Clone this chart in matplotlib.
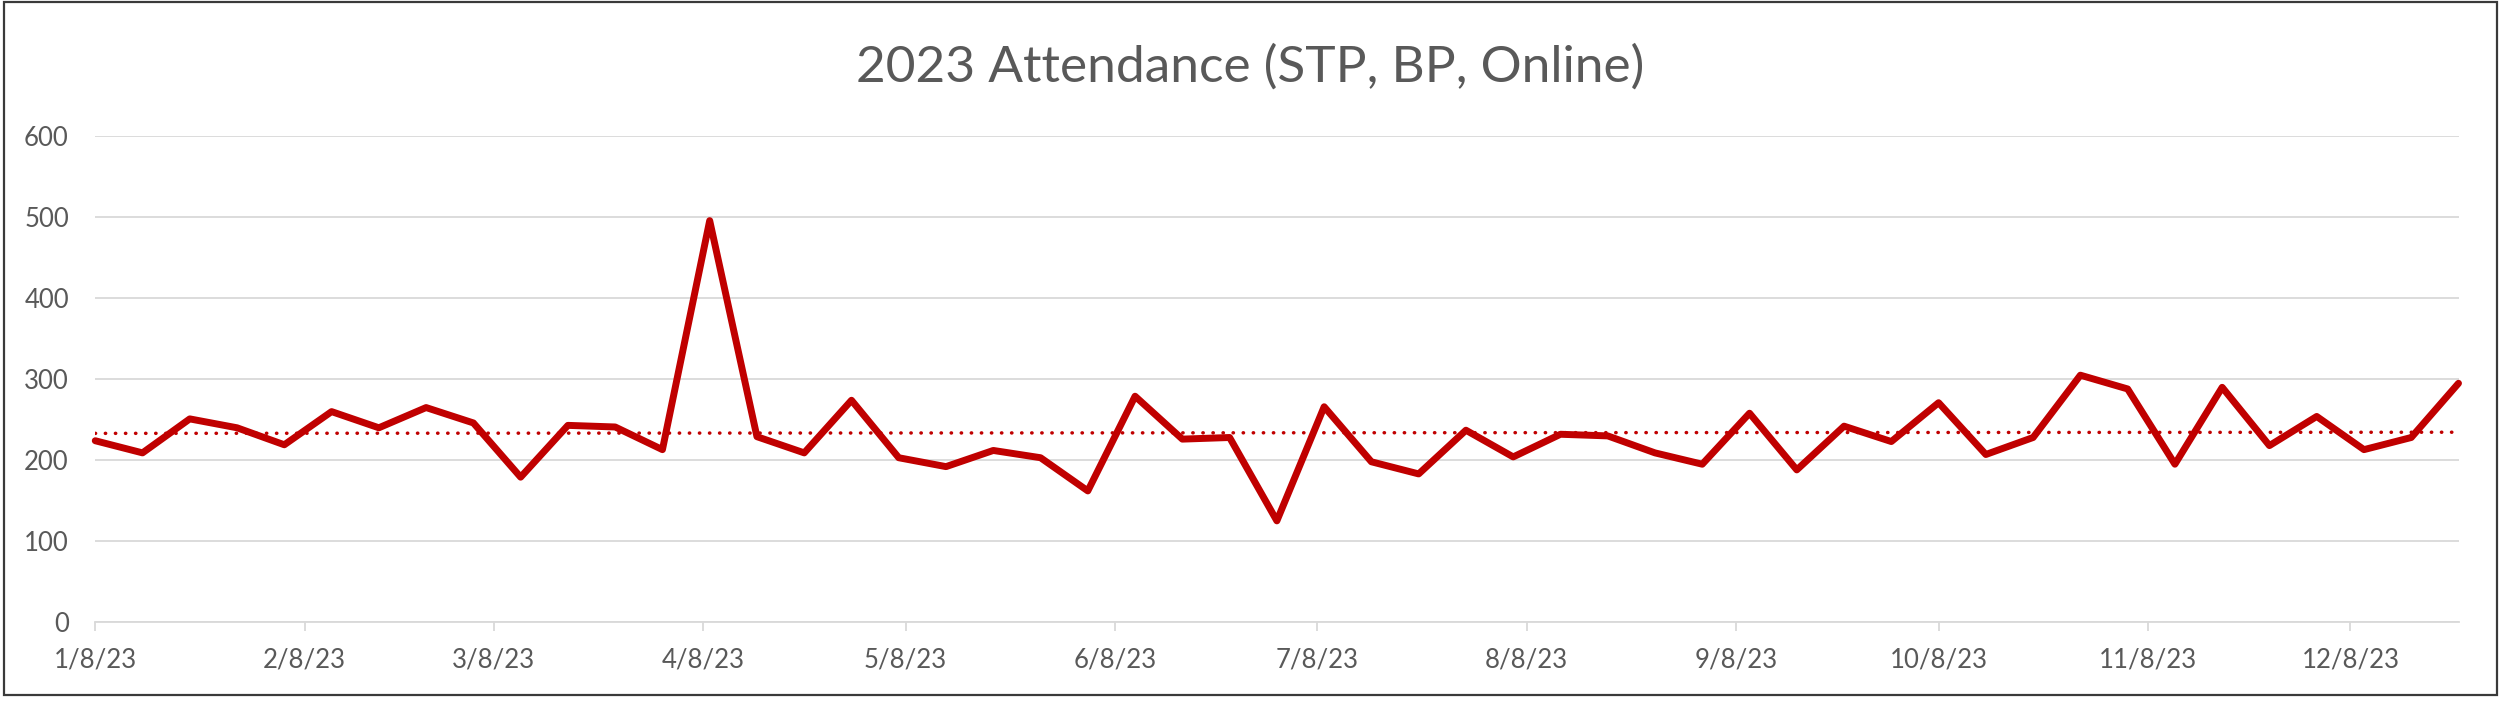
import matplotlib
matplotlib.use("Agg")
import matplotlib.pyplot as plt
import matplotlib.dates as mdates
from matplotlib.patches import Rectangle
import numpy as np
import pandas as pd

# weekly attendance
dates = [
    "2023-01-08", "2023-01-15", "2023-01-22", "2023-01-29", "2023-02-05",
    "2023-02-12", "2023-02-19", "2023-02-26", "2023-03-05", "2023-03-12",
    "2023-03-19", "2023-03-26", "2023-04-02", "2023-04-09", "2023-04-16",
    "2023-04-23", "2023-04-30", "2023-05-07", "2023-05-14", "2023-05-21",
    "2023-05-28", "2023-06-04", "2023-06-11", "2023-06-18", "2023-06-25",
    "2023-07-02", "2023-07-09", "2023-07-16", "2023-07-23", "2023-07-30",
    "2023-08-06", "2023-08-13", "2023-08-20", "2023-08-27", "2023-09-03",
    "2023-09-10", "2023-09-17", "2023-09-24", "2023-10-01", "2023-10-08",
    "2023-10-15", "2023-10-22", "2023-10-29", "2023-11-05", "2023-11-12",
    "2023-11-19", "2023-11-26", "2023-12-03", "2023-12-10", "2023-12-17",
    "2023-12-24",
]
attendance = [
    224, 209, 251, 240, 219, 260, 240, 265, 246, 179,
    243, 241, 213, 496, 229, 209, 274, 203, 192, 212,
    203, 162, 279, 226, 228, 125, 266, 198, 183, 237,
    204, 232, 230, 209, 195, 258, 188, 242, 223, 271,
    207, 228, 305, 288, 195, 290, 218, 254, 213, 228,
    295,
]
tick_dates = ["2023-01-08", "2023-02-08", "2023-03-08", "2023-04-08",
              "2023-05-08", "2023-06-08", "2023-07-08", "2023-08-08",
              "2023-09-08", "2023-10-08", "2023-11-08", "2023-12-08"]
tick_labels = ["1/8/23", "2/8/23", "3/8/23", "4/8/23", "5/8/23", "6/8/23",
               "7/8/23", "8/8/23", "9/8/23", "10/8/23", "11/8/23", "12/8/23"]
y_ticks = [0, 100, 200, 300, 400, 500, 600]
title = "2023 Attendance (STP, BP, Online)"

plt.rcParams['font.family'] = ['Lato', 'DejaVu Sans']

x = pd.to_datetime(dates)
xnum = mdates.date2num(x)
red = "#C00000"
grey_txt = "#595959"
grid_c = "#D9D9D9"

fig = plt.figure(figsize=(25, 7.01), dpi=100)
ax = fig.add_axes([0.0381, 0.1127, 0.9453, 0.6926])

# linear trendline (Excel style)
k, b = np.polyfit(xnum, attendance, 1)
ax.plot(x[[0, -1]], k * xnum[[0, -1]] + b, color=red, linewidth=2.5,
        linestyle=(0, (0.1, 2.8)), dash_capstyle="round", zorder=2)

ax.plot(x, attendance, color=red, linewidth=5, solid_joinstyle="round",
        solid_capstyle="round", zorder=3, clip_on=False)

ax.set_xlim(x[0], x[-1])
ax.set_ylim(0, 600)
ax.set_yticks(y_ticks)
ax.set_xticks(pd.to_datetime(tick_dates))
ax.set_xticklabels(tick_labels)

ax.grid(axis="y", color=grid_c, linewidth=1.3)
ax.set_axisbelow(True)
for s in ["top", "right", "left"]:
    ax.spines[s].set_visible(False)
ax.spines["bottom"].set_color(grid_c)
ax.spines["bottom"].set_linewidth(1.3)
ax.tick_params(axis="y", length=0, pad=19, labelsize=18.5, labelcolor=grey_txt)
ax.tick_params(axis="x", length=6.5, width=1.3, color=grid_c, pad=12,
               labelsize=18.5, labelcolor=grey_txt)

fig.text(0.5, 0.883, title, ha="center", va="baseline", fontsize=37,
         color=grey_txt)

# outer chart border
fig.patches.append(Rectangle((0.0014, 0.0086), 0.9972, 0.9885,
                             transform=fig.transFigure, fill=False,
                             edgecolor="#3a3a3a", linewidth=1.6))

fig.savefig("out.png", dpi=100)
